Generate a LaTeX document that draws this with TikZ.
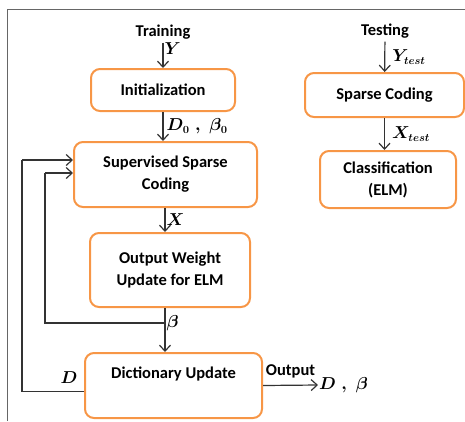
\documentclass[tikz,border=0pt]{standalone}
\usepackage{fontspec}
\setsansfont{Carlito}
\usetikzlibrary{arrows.meta,calc}
\definecolor{boxorange}{HTML}{F79646}
\definecolor{lineGray}{HTML}{333333}

\begin{document}
\begin{tikzpicture}[x=1pt,y=-1pt,
					stage/.style={draw=boxorange, line width=2pt, rounded corners=9pt, align=center, inner sep=0pt,
						font=\sffamily\bfseries\fontsize{16.5}{22}\selectfont},
					title/.style={font=\sffamily\bfseries\fontsize{16.5}{18}\selectfont},
					var/.style={font=\fontsize{16}{18}\selectfont\boldmath, inner sep=1pt},
					flow/.style={draw=lineGray, line width=1.2pt, -{Straight Barb[length=6pt,width=11pt,line width=1.2pt]}},
					wire/.style={draw=lineGray, line width=1.2pt}]
    \useasboundingbox (0,0) rectangle (465,421);
    % Frame
    \draw[draw=gray!80!black, line width=1pt] (7,421) -- (7,9) -- (465,9);
    % Place nodes
    \node [title] (train) at (163,32){Training};
    \node [stage, minimum width=144pt, minimum height=42pt] (init) at (163,90){Initialization};
    \node [stage, minimum width=183pt, minimum height=65pt] (ssc) at (165.5,174.5){Supervised Sparse\\Coding};
    \node [stage, minimum width=160pt, minimum height=74pt] (owu) at (170,270){Output Weight\\Update for ELM};
    \node [stage, minimum width=177pt, minimum height=65pt] (du) at (173.5,385.5){Dictionary Update\\[4pt]\mbox{}};
    \node [title] (test) at (385,31){Testing};
    \node [stage, minimum width=159pt, minimum height=44pt] (sc) at (384.5,95){Sparse Coding};
    \node [stage, minimum width=136pt, minimum height=57pt] (cls) at (388,179.5){Classification\\(ELM)};
    \node [var, anchor=west] (res) at (318,385){$D\;,\;\beta$};
    \coordinate (j1) at (165,323);
    \coordinate (fb1) at (45,173);
    \coordinate (fb2) at (22,160);
    % Draw edges
    \draw[flow] (train) -- (init) node[var, pos=0.25, right]{$Y$};
    \draw[flow] (init) -- (init.south |- ssc.north) node[var, midway, right=2pt]{$D_0\;,\;\beta_0$};
    \draw[flow] (ssc.south -| j1) -- (j1 |- owu.north) node[var, midway, right]{$X$};
    \draw[flow] (owu.south -| j1) -- (j1 |- du.north) node[var, pos=0.35, right]{$\beta$};
    \draw[wire] (j1) -| (fb1);
    \draw[flow] (fb1) -- (fb1 -| ssc.west);
    \draw[wire] ([yshift=-6pt]du.west) -| (fb2) node[var, pos=0.12, above=6pt]{$D$};
    \draw[flow] (fb2) -- (fb2 -| ssc.west);
    \draw[flow] (du.east) -- (res.west) node[title, midway, above=3pt]{Output};
    \draw[flow] (test) -- (sc) node[var, pos=0.5, right=6pt]{$Y_{test}$};
    \draw[flow] (sc) -- (sc.south |- cls.north) node[var, midway, right=6pt]{$X_{test}$};
\end{tikzpicture}
\end{document}
